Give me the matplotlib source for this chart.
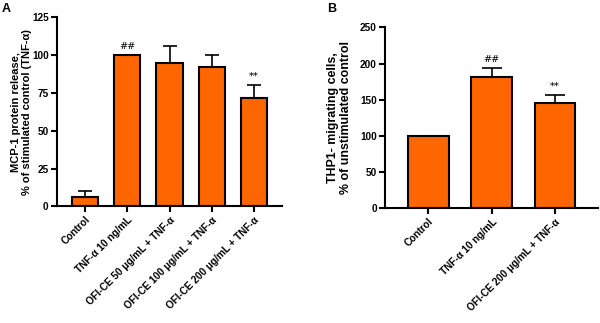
import matplotlib
matplotlib.use("Agg")
import matplotlib.pyplot as plt

plt.rcParams['font.family'] = ['Liberation Sans', 'DejaVu Sans']

# Panel A data
cats_a = ["Control", "TNF-α 10 ng/mL", "OFI-CE 50 μg/mL + TNF-α",
          "OFI-CE 100 μg/mL + TNF-α", "OFI-CE 200 μg/mL + TNF-α"]
vals_a = [6, 100, 95, 92, 72]
errs_a = [4, 0, 11, 8, 8]
marks_a = ["", "##", "", "", "**"]

# Panel B data
cats_b = ["Control", "TNF-α 10 ng/mL", "OFI-CE 200 μg/mL + TNF-α"]
vals_b = [100, 182, 145]
errs_b = [0, 12, 11]
marks_b = ["", "##", "**"]

orange = "#FF6600"

fig = plt.figure(figsize=(6.0, 3.23), dpi=100)
axA = fig.add_axes([0.095, 0.361, 0.375, 0.585])
axB = fig.add_axes([0.642, 0.355, 0.355, 0.5605])

def draw(ax, cats, vals, errs, marks, ymax, step, ylabel, width, xl, markoff,
         capsize, labsize, labx):
    x = list(range(len(cats)))
    ax.bar(x, vals, width=width, color=orange, edgecolor="black", linewidth=1.5, zorder=2)
    for xi, v, e in zip(x, vals, errs):
        if e > 0:
            ax.errorbar([xi], [v], yerr=[[0], [e]], fmt='none', ecolor='black',
                        elinewidth=1.2, capsize=capsize, capthick=1.2, zorder=1)
    for xi, v, e, m in zip(x, vals, errs, marks):
        if m:
            ax.text(xi, v + e + markoff, m, ha='center', va='bottom', fontsize=7,
                    family='DejaVu Serif', color='black')
    ax.set_xlim(-xl, len(cats) - 1 + xl)
    ax.set_ylim(0, ymax)
    ax.set_yticks(range(0, ymax + 1, step))
    ax.set_xticks(x)
    ax.set_xticklabels(cats, rotation=45, ha='right', rotation_mode='anchor',
                       fontsize=7.2, fontweight='bold')
    for lab in ax.get_yticklabels():
        lab.set_fontweight('bold')
        lab.set_fontsize(7.2)
    for s in ['top', 'right']:
        ax.spines[s].set_visible(False)
    for s in ['left', 'bottom']:
        ax.spines[s].set_linewidth(1.5)
    ax.tick_params(width=1.5, length=4, pad=2)
    ax.set_ylabel(ylabel, fontsize=labsize, fontweight='bold', linespacing=1.1)
    ax.yaxis.set_label_coords(labx, 0.5)

draw(axA, cats_a, vals_a, errs_a, marks_a, 125, 25,
     "MCP-1 protein release,\n% of stimulated control (TNF-α)", 0.62, 0.67, 3,
     5, 8, -0.111)
draw(axB, cats_b, vals_b, errs_b, marks_b, 250, 50,
     "THP1- migrating cells,\n% of unstimulated control", 0.64, 0.68, 6,
     7.2, 8.9, -0.155)

fig.text(0.003, 0.99, "A", fontsize=9, fontweight='bold', va='top', ha='left')
fig.text(0.545, 0.99, "B", fontsize=9, fontweight='bold', va='top', ha='left')

fig.savefig("out.png", dpi=100)
